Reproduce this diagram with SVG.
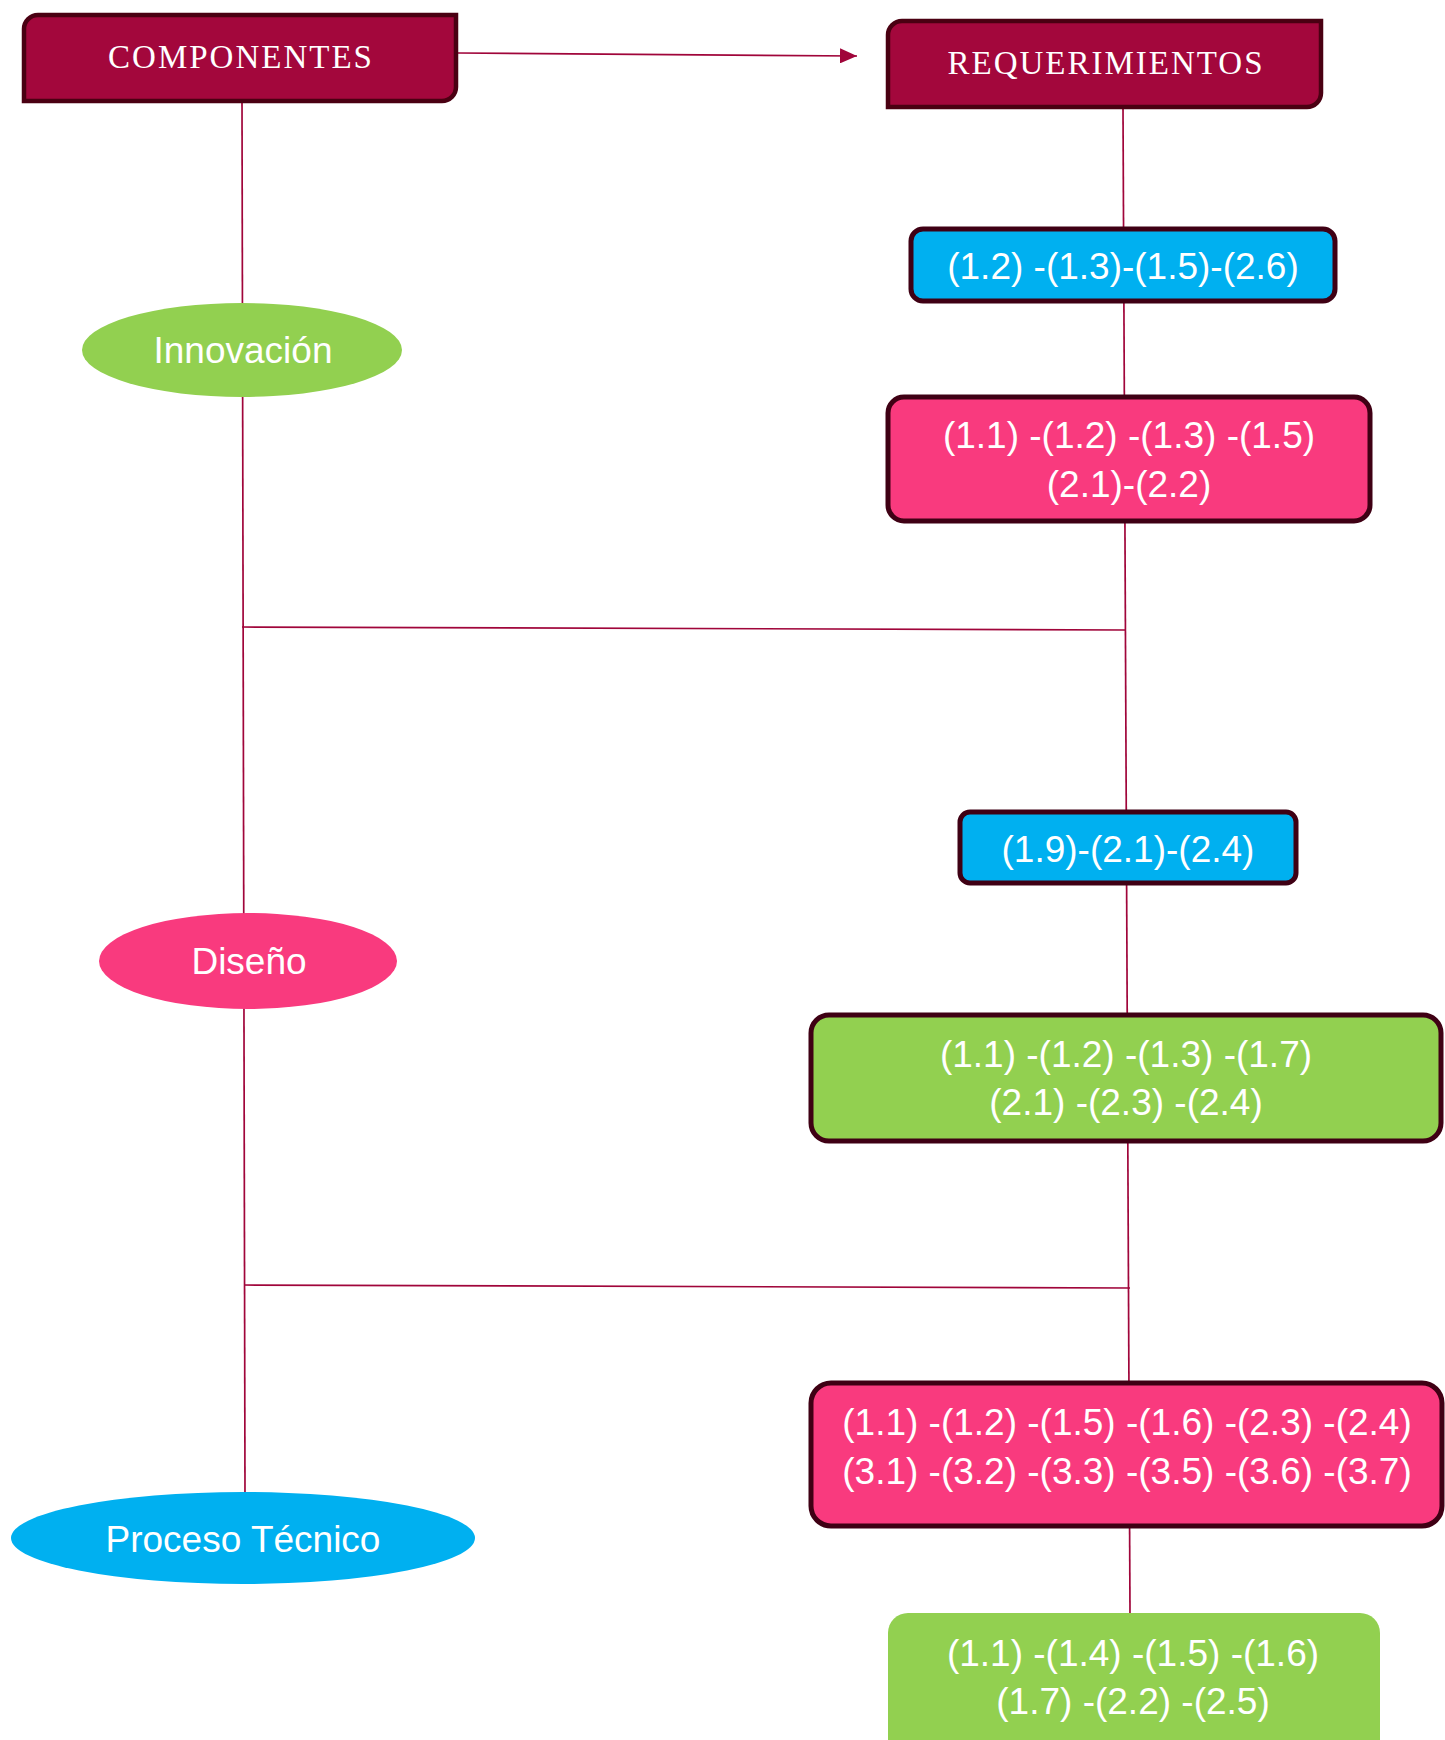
<svg xmlns="http://www.w3.org/2000/svg" width="1445" height="1740" viewBox="0 0 1445 1740">
<defs>
<marker id="arrow" viewBox="0 0 17 15" refX="17" refY="7.5" markerWidth="17" markerHeight="15" markerUnits="userSpaceOnUse" orient="auto">
<path d="M0,0 L17,7.5 L0,15 Z" fill="#a0053a"/>
</marker>
<style>
.hdr{fill:#a3073c;stroke:#4a0012;stroke-width:4.5}
.box{stroke:#3f0014;stroke-width:5}
.blue{fill:#00b0f0}
.pink{fill:#f93a7e}
.green{fill:#92d050}
.ln{stroke:#a0053a;stroke-width:1.7;fill:none}
.ht{font-family:"Liberation Serif","DejaVu Serif",serif;font-size:33px;fill:#ffffff;text-anchor:middle;letter-spacing:2px}
.t{font-family:"Liberation Sans",Arial,sans-serif;font-size:37px;fill:#ffffff;text-anchor:middle}
</style>
</defs>
<rect width="1445" height="1740" fill="#ffffff"/>
<g id="connectors">
<line class="ln" x1="458" y1="53" x2="857" y2="56" marker-end="url(#arrow)"/>
<line class="ln" x1="242" y1="103" x2="245" y2="1492"/>
<line class="ln" x1="1123" y1="109" x2="1130" y2="1613"/>
<line class="ln" x1="242" y1="627" x2="1125" y2="630"/>
<line class="ln" x1="244" y1="1285" x2="1130" y2="1288"/>
</g>
<g id="componentes">
<path class="hdr" d="M38,15 H456 V87 A14,14 0 0 1 442,101 H24 V29 A14,14 0 0 1 38,15 Z"/>
<text class="ht" x="241" y="68">COMPONENTES</text>
</g>
<g id="requerimientos">
<path class="hdr" d="M902,21 H1321 V93 A14,14 0 0 1 1307,107 H888 V35 A14,14 0 0 1 902,21 Z"/>
<text class="ht" x="1106" y="74">REQUERIMIENTOS</text>
</g>
<g id="innovacion">
<ellipse class="green" cx="242" cy="350" rx="160" ry="47"/>
<text class="t" x="243" y="363">Innovación</text>
</g>
<g id="diseno">
<ellipse class="pink" cx="248" cy="961" rx="149" ry="48"/>
<text class="t" x="249" y="974">Diseño</text>
</g>
<g id="proceso-tecnico">
<ellipse class="blue" cx="243" cy="1538" rx="232" ry="46"/>
<text class="t" x="243" y="1552">Proceso Técnico</text>
</g>
<g id="req-innovacion-1">
<rect class="box blue" x="911" y="229" width="424" height="72" rx="12"/>
<text class="t" x="1123" y="279">(1.2) -(1.3)-(1.5)-(2.6)</text>
</g>
<g id="req-innovacion-2">
<rect class="box pink" x="888" y="397" width="482" height="124" rx="16"/>
<text class="t" x="1129" y="448">(1.1) -(1.2) -(1.3) -(1.5)</text>
<text class="t" x="1129" y="497">(2.1)-(2.2)</text>
</g>
<g id="req-diseno-1">
<rect class="box blue" x="960" y="812" width="336" height="71" rx="10"/>
<text class="t" x="1128" y="862">(1.9)-(2.1)-(2.4)</text>
</g>
<g id="req-diseno-2">
<rect class="box green" x="811" y="1015" width="630" height="126" rx="18"/>
<text class="t" x="1126" y="1067">(1.1) -(1.2) -(1.3) -(1.7)</text>
<text class="t" x="1126" y="1115">(2.1) -(2.3) -(2.4)</text>
</g>
<g id="req-proceso-1">
<rect class="box pink" x="811" y="1383" width="631" height="143" rx="20"/>
<text class="t" x="1127" y="1435">(1.1) -(1.2) -(1.5) -(1.6) -(2.3) -(2.4)</text>
<text class="t" x="1127" y="1484">(3.1) -(3.2) -(3.3) -(3.5) -(3.6) -(3.7)</text>
</g>
<g id="req-proceso-2">
<rect class="green" x="888" y="1613" width="492" height="150" rx="20"/>
<text class="t" x="1133" y="1666">(1.1) -(1.4) -(1.5) -(1.6)</text>
<text class="t" x="1133" y="1714">(1.7) -(2.2) -(2.5)</text>
</g>
</svg>
